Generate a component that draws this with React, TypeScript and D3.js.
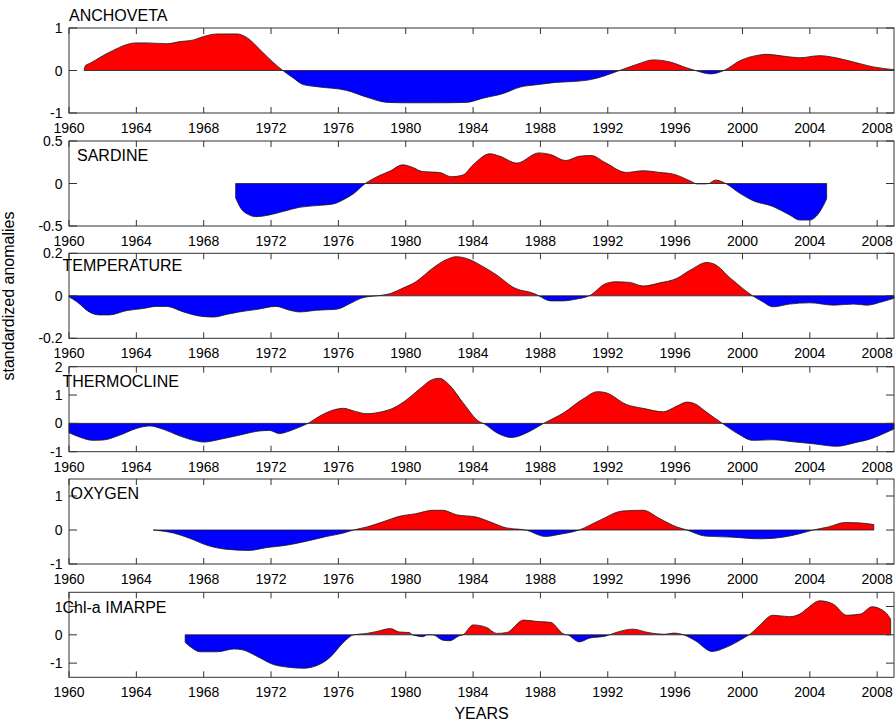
import React from "react";
import * as d3 from "d3";

const width = 895;
const height = 721;
const font = "'Liberation Sans', Arial, Helvetica, sans-serif";

// [year, standardized anomaly]
const anchoveta: [number, number][] = [
  [1960.9, 0], [1960.95, 0.1], [1961.3, 0.18], [1962.4, 0.43], [1964, 0.65], [1964.6, 0.65],
  [1965.8, 0.63], [1966.6, 0.68], [1967.4, 0.72], [1968, 0.8], [1968.8, 0.86], [1970, 0.86],
  [1970.5, 0.79], [1971.5, 0.43], [1972.1, 0.2], [1972.7, 0], [1973.3, -0.17], [1973.9, -0.33],
  [1974.7, -0.38], [1976.5, -0.47], [1977.7, -0.63], [1978.9, -0.75], [1980, -0.76], [1982, -0.76],
  [1983.6, -0.75], [1984.6, -0.65], [1985.8, -0.54], [1986.8, -0.39], [1987.9, -0.33], [1988.9, -0.28],
  [1989.9, -0.26], [1990.9, -0.22], [1991.7, -0.14], [1992.7, 0], [1993.7, 0.14], [1994.7, 0.25],
  [1995.7, 0.2], [1996.7, 0.06], [1997.2, 0], [1998.1, -0.08], [1998.9, 0], [1999.9, 0.24],
  [2000.8, 0.35], [2001.4, 0.38], [2002.6, 0.33], [2003.4, 0.3], [2004.6, 0.35], [2005.4, 0.31],
  [2006.6, 0.2], [2007.7, 0.09], [2009, 0.02]
];

const sardine: [number, number][] = [
  [1969.9, -0.17], [1970.2, -0.29], [1970.6, -0.36], [1971.1, -0.39], [1971.9, -0.37], [1972.7, -0.33],
  [1973.7, -0.28], [1974.7, -0.26], [1975.7, -0.24], [1976.3, -0.19], [1976.9, -0.12], [1977.6, 0],
  [1978.3, 0.08], [1979.1, 0.15], [1979.8, 0.22], [1980.4, 0.19], [1981, 0.14], [1982, 0.13],
  [1982.7, 0.08], [1983.4, 0.1], [1984, 0.22], [1985, 0.35], [1985.6, 0.32], [1986.6, 0.24],
  [1987.9, 0.36], [1988.6, 0.34], [1989.5, 0.27], [1990.3, 0.32], [1991, 0.33], [1991.9, 0.24],
  [1993.1, 0.13], [1994.1, 0.15], [1995.1, 0.13], [1995.9, 0.11], [1996.9, 0.03], [1997.3, -0.005],
  [1997.7, -0.005], [1998, 0], [1998.4, 0.04], [1999, 0], [1999.8, -0.11], [2000.6, -0.2],
  [2001.8, -0.27], [2002.8, -0.37], [2003.4, -0.43], [2004, -0.43], [2004.6, -0.33], [2005, -0.18]
];

const temperature: [number, number][] = [
  [1960, -0.005], [1960.5, -0.03], [1961.2, -0.076], [1961.8, -0.09], [1962.4, -0.09], [1963.4, -0.07],
  [1964.4, -0.06], [1965.2, -0.05], [1965.8, -0.05], [1966.8, -0.076], [1967.8, -0.096], [1968.6, -0.1],
  [1969.4, -0.087], [1970.1, -0.076], [1971.1, -0.065], [1972.3, -0.05], [1973.1, -0.068], [1973.7, -0.076],
  [1974.7, -0.068], [1975.9, -0.063], [1976.7, -0.036], [1977.3, -0.013], [1977.7, -0.005], [1978.3, 0],
  [1979.1, 0.011], [1979.8, 0.035], [1980.6, 0.066], [1981.6, 0.13], [1982.4, 0.17], [1983, 0.184],
  [1983.6, 0.176], [1984.6, 0.137], [1985.4, 0.098], [1986.4, 0.039], [1987.7, 0.008], [1987.9, 0],
  [1988.6, -0.024], [1989.3, -0.024], [1990.1, -0.016], [1990.9, 0], [1991.9, 0.058], [1992.5, 0.066],
  [1993.3, 0.063], [1994.1, 0.046], [1995.1, 0.061], [1996.1, 0.082], [1996.9, 0.121], [1997.9, 0.157],
  [1998.3, 0.15], [1999.3, 0.082], [2000.6, 0], [2001.2, -0.028], [2001.8, -0.052], [2002.8, -0.039],
  [2004, -0.033], [2005.4, -0.044], [2006.6, -0.039], [2007.4, -0.044], [2008.3, -0.028], [2009, -0.012]
];

const thermocline: [number, number][] = [
  [1960, -0.33], [1960.7, -0.5], [1961.4, -0.6], [1962, -0.59], [1963, -0.42], [1964, -0.18],
  [1964.8, -0.09], [1965.6, -0.21], [1966.6, -0.45], [1967.4, -0.6], [1968, -0.66], [1969, -0.56],
  [1970.1, -0.42], [1971.3, -0.27], [1971.9, -0.25], [1972.5, -0.36], [1973.1, -0.27], [1973.7, -0.13],
  [1974.2, 0], [1974.9, 0.26], [1975.7, 0.47], [1976.3, 0.53], [1976.9, 0.44], [1977.7, 0.34],
  [1978.5, 0.4], [1979.3, 0.55], [1980, 0.81], [1980.8, 1.2], [1981.6, 1.55], [1982, 1.59],
  [1982.6, 1.35], [1983.4, 0.73], [1984.4, 0.05], [1984.6, 0], [1985.4, -0.33], [1986.3, -0.5],
  [1987.2, -0.33], [1988.2, 0], [1989.4, 0.38], [1990.5, 0.85], [1991.4, 1.12], [1991.9, 1.08],
  [1993.1, 0.67], [1994.1, 0.53], [1995.3, 0.41], [1996.1, 0.61], [1996.7, 0.75], [1997.1, 0.71],
  [1997.9, 0.38], [1998.8, 0], [1999.8, -0.39], [2000.6, -0.6], [2001.8, -0.58], [2003, -0.65],
  [2004.2, -0.72], [2005.6, -0.81], [2006.7, -0.68], [2007.7, -0.53], [2008.5, -0.33], [2009, -0.2]
];

const oxygen: [number, number][] = [
  [1965, 0], [1966.2, -0.09], [1967.2, -0.25], [1968.2, -0.45], [1969.4, -0.57], [1970.7, -0.6],
  [1971.7, -0.52], [1972.9, -0.45], [1974.1, -0.33], [1975.3, -0.19], [1976.3, -0.09], [1976.9, 0],
  [1977.7, 0.09], [1978.7, 0.25], [1979.6, 0.4], [1980.6, 0.48], [1981.6, 0.58], [1982.2, 0.58],
  [1983, 0.45], [1984.2, 0.38], [1985, 0.24], [1986, 0.06], [1986.8, 0.02], [1987.1, 0],
  [1988.3, -0.19], [1989.1, -0.13], [1990.3, 0], [1991.5, 0.28], [1992.9, 0.56], [1994.1, 0.58],
  [1995.1, 0.33], [1996.1, 0.09], [1996.7, 0], [1997.8, -0.18], [1999.4, -0.21], [2001, -0.26],
  [2002.4, -0.21], [2003.4, -0.11], [2004.2, 0], [2005.1, 0.09], [2006.1, 0.22], [2006.9, 0.21],
  [2007.8, 0.16]
];

const chla: [number, number][] = [
  [1966.9, -0.27], [1967.2, -0.42], [1967.8, -0.6], [1968.8, -0.6], [1969.8, -0.5], [1970.3, -0.53],
  [1971.1, -0.74], [1972.1, -1.04], [1973.1, -1.15], [1973.9, -1.18], [1974.7, -1.09], [1975.5, -0.8],
  [1976.3, -0.27], [1976.9, 0], [1977.7, 0.05], [1978.3, 0.12], [1979.1, 0.22], [1979.6, 0.1],
  [1980.2, 0.08], [1980.4, 0], [1980.6, -0.03], [1981, -0.07], [1981.3, 0], [1981.6, 0], [1982.2, -0.19],
  [1982.6, -0.21], [1983.2, -0.03], [1983.4, 0], [1984, 0.35], [1984.8, 0.26], [1985.4, 0.05], [1986, 0.08],
  [1987, 0.52], [1987.8, 0.47], [1988.6, 0.44], [1989.4, 0.02], [1989.6, 0], [1990.3, -0.25],
  [1990.9, -0.12], [1991.9, -0.04], [1992.1, 0], [1992.7, 0.12], [1993.5, 0.2], [1994.4, 0.08],
  [1995.4, 0.02], [1995.9, 0.06], [1996.5, 0], [1997.2, -0.21], [1998.2, -0.59], [1999, -0.45],
  [2000.2, -0.07], [2000.4, 0], [2001, 0.32], [2001.8, 0.69], [2002.8, 0.64], [2003.4, 0.73],
  [2003.8, 0.91], [2004.6, 1.2], [2005.4, 1.08], [2006.2, 0.69], [2007, 0.73], [2007.7, 0.99],
  [2008.5, 0.79], [2008.8, 0.55]
];

const xTicks = d3.range(1960, 2009, 4);

const panels = [
  { name: "ANCHOVETA", data: anchoveta, domain: [-1, 1], ticks: [-1, 0, 1], labelX: 69, labelDy: -7 },
  { name: "SARDINE", data: sardine, domain: [-0.5, 0.5], ticks: [-0.5, 0, 0.5], labelX: 77, labelDy: 20 },
  { name: "TEMPERATURE", data: temperature, domain: [-0.2, 0.2], ticks: [-0.2, 0, 0.2], labelX: 62.5, labelDy: 18 },
  { name: "THERMOCLINE", data: thermocline, domain: [-1, 2], ticks: [-1, 0, 1, 2], labelX: 62.5, labelDy: 20.5 },
  { name: "OXYGEN", data: oxygen, domain: [-1, 1.5], ticks: [-1, 0, 1], labelX: 70.5, labelDy: 20 },
  { name: "Chl-a IMARPE", data: chla, domain: [-1.5, 1.5], ticks: [-1, 0, 1], labelX: 62.5, labelDy: 21 }
];

const left = 69;
const right = 894;
const panelTops = [28, 141, 253.3, 366.7, 479, 592.3];
const panelH = 85;

const x = d3.scaleLinear().domain([1960, 2009]).range([left, right]);

function Panel({ p, top, idx }: any) {
  const y = d3.scaleLinear().domain(p.domain).range([top + panelH, top]);
  const y0 = y(0);
  const area = d3
    .area<[number, number]>()
    .x(d => x(d[0]))
    .y0(y0)
    .y1(d => y(d[1]))
    .curve(d3.curveMonotoneX);
  const line = d3
    .line<[number, number]>()
    .x(d => x(d[0]))
    .y(d => y(d[1]))
    .curve(d3.curveMonotoneX);
  const first = p.data[0];
  const last = p.data[p.data.length - 1];
  const path = area(p.data) as string;
  return (
    <g>
      <defs>
        <clipPath id={`pos${idx}`}>
          <rect x={left} y={top} width={right - left} height={y0 - top} />
        </clipPath>
        <clipPath id={`neg${idx}`}>
          <rect x={left} y={y0} width={right - left} height={top + panelH - y0} />
        </clipPath>
      </defs>
      <path d={path} fill="#ff0000" clipPath={`url(#pos${idx})`} />
      <path d={path} fill="#0000ff" clipPath={`url(#neg${idx})`} />
      <path d={line(p.data) as string} fill="none" stroke="#1a1a1a" strokeWidth={0.8} />
      <line x1={x(first[0])} x2={x(last[0])} y1={y0} y2={y0} stroke="#1a1a1a" strokeWidth={0.8} />
      <line x1={x(first[0])} x2={x(first[0])} y1={y0} y2={y(first[1])} stroke="#1a1a1a" strokeWidth={0.8} />
      <line x1={x(last[0])} x2={x(last[0])} y1={y0} y2={y(last[1])} stroke="#1a1a1a" strokeWidth={0.8} />

      <rect x={left} y={top} width={right - left} height={panelH} fill="none" stroke="#333" strokeWidth={1} />
      {xTicks.map(t => (
        <g key={t}>
          <line x1={x(t)} x2={x(t)} y1={top} y2={top + 6} stroke="#333" />
          <line x1={x(t)} x2={x(t)} y1={top + panelH} y2={top + panelH - 6} stroke="#333" />
          <text x={x(t)} y={top + panelH + 20} textAnchor="middle" fontSize={14}>
            {t}
          </text>
        </g>
      ))}
      {p.ticks.map((t: number) => (
        <g key={t}>
          <line x1={left} x2={left + 8} y1={y(t)} y2={y(t)} stroke="#333" />
          <line x1={right} x2={right - 8} y1={y(t)} y2={y(t)} stroke="#333" />
          <text x={62.5} y={y(t)} dy="0.36em" textAnchor="end" fontSize={14}>
            {t}
          </text>
        </g>
      ))}
      <text x={p.labelX} y={top + p.labelDy} fontSize={16}>
        {p.name}
      </text>
    </g>
  );
}

export default function App() {
  return (
    <svg
      width={width}
      height={height}
      style={{ position: "absolute", left: 0, top: 0, background: "#fff" }}
      fontFamily={font}
    >
      <rect width={width} height={height} fill="#fff" />
      {panels.map((p, i) => (
        <Panel key={p.name} p={p} top={panelTops[i]} idx={i} />
      ))}
      <text transform="translate(14,296) rotate(-90)" textAnchor="middle" fontSize={16}>
        standardized anomalies
      </text>
      <text x={(left + right) / 2} y={719} textAnchor="middle" fontSize={16}>
        YEARS
      </text>
    </svg>
  );
}
